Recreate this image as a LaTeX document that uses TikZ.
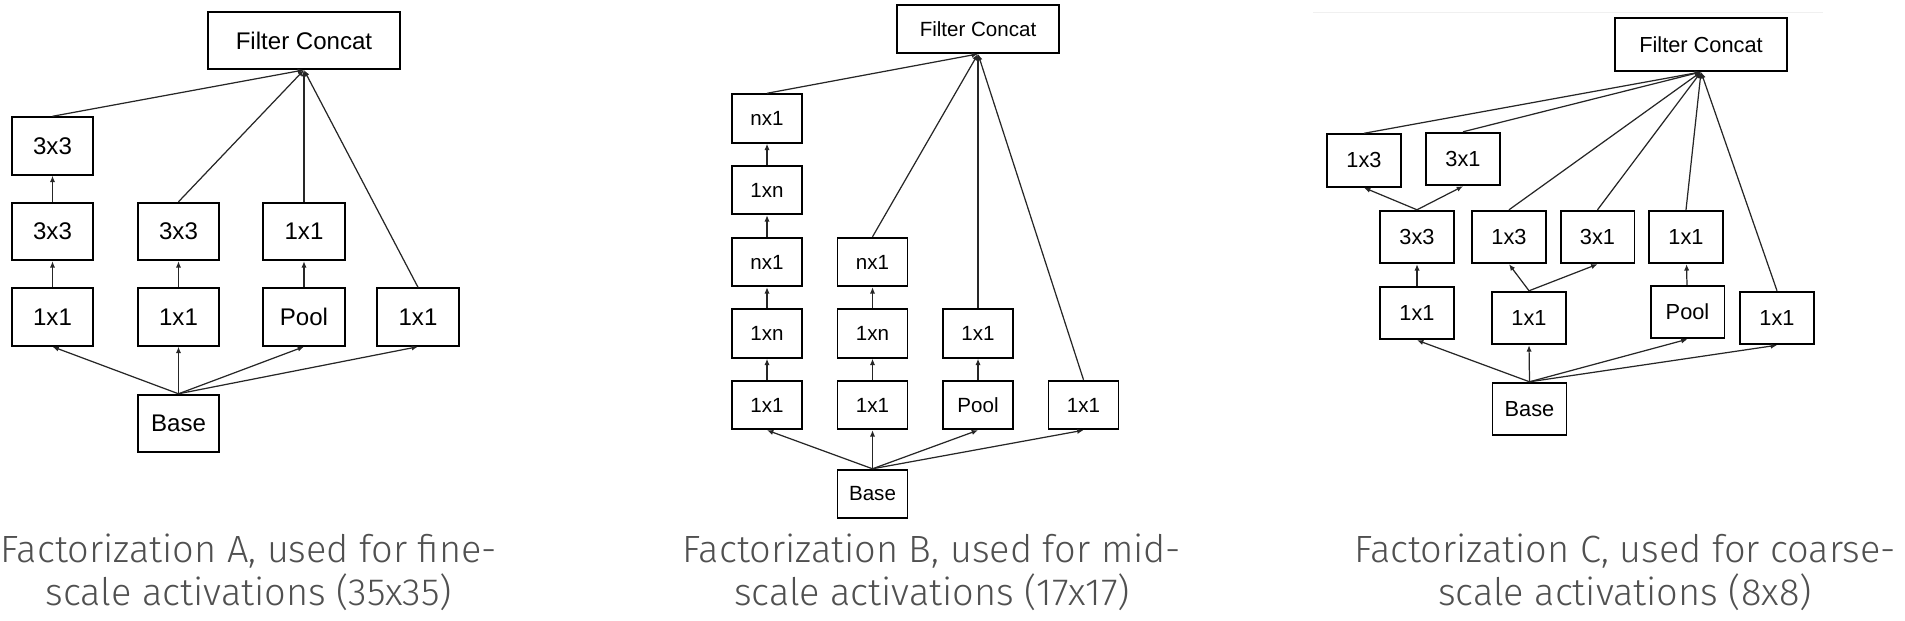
\documentclass[tikz,border=0pt]{standalone}
\usepackage{fontspec}
\setmainfont{Liberation Sans}
\newfontfamily\capfont{Fira Sans Light}
\usepackage{xcolor}
\usetikzlibrary{arrows.meta, positioning}
\definecolor{capgray}{RGB}{80,80,80}
\tikzset{
    layer/.style={
        rectangle,
        draw=black,
        line width=1.1pt,
        inner sep=0pt,
        fill=white
    },
    layerA/.style={
        layer,
        minimum width=1.63cm,
        minimum height=1.15cm,
        font=\fontsize{13.7}{16}\selectfont
    },
    layerB/.style={
        layer,
        minimum width=1.40cm,
        minimum height=0.97cm,
        font=\fontsize{11.7}{14}\selectfont
    },
    layerC/.style={
        layer,
        minimum width=1.48cm,
        minimum height=1.05cm,
        font=\fontsize{12.4}{14}\selectfont
    },
    conn/.style={
        draw=black!85,
        line width=0.7pt,
        -{Latex[length=3.6pt,width=3pt]}
    },
    caption/.style={
        anchor=base,
        text=capgray,
        inner sep=0pt,
        font=\capfont\fontsize{21.6}{26}\selectfont
    }
}

\begin{document}
\begin{tikzpicture}[x=0.02cm, y=-0.02cm]

\useasboundingbox (0,0) rectangle (1905,621);

% Factorization A
\node[layerA, minimum width=3.84cm, minimum height=1.14cm] (concatA) at (304,40.5) {Filter Concat};
\node[layerA] (a1top) at (52.5,146) {3x3};
\node[layerA] (a1mid) at (52.5,231.5) {3x3};
\node[layerA] (a1bot) at (52.5,317) {1x1};
\node[layerA] (a2mid) at (178.5,231.5) {3x3};
\node[layerA] (a2bot) at (178.5,317) {1x1};
\node[layerA] (a3mid) at (304,231.5) {1x1};
\node[layerA] (a3bot) at (304,317) {Pool};
\node[layerA] (a4bot) at (418,317) {1x1};
\node[layerA] (baseA) at (178.5,423.5) {Base};

\draw[conn] (baseA.north) -- (a1bot.south);
\draw[conn] (baseA.north) -- (a2bot.south);
\draw[conn] (baseA.north) -- (a3bot.south);
\draw[conn] (baseA.north) -- (a4bot.south);
\draw[conn] (a1bot) -- (a1mid);
\draw[conn] (a1mid) -- (a1top);
\draw[conn] (a2bot) -- (a2mid);
\draw[conn] (a3bot) -- (a3mid);
\draw[conn] (a1top.north) -- (concatA.south);
\draw[conn] (a2mid.north) -- (concatA.south);
\draw[conn] (a3mid.north) -- (concatA.south);
\draw[conn] (a4bot.north) -- (concatA.south);

\node[caption] (capA1) at (249,562) {Factorization A, used for fine-};
\node[caption] (capA2) at (249,605) {scale activations (35x35)};

% Factorization B
\node[layerB, minimum width=3.24cm, minimum height=0.96cm] (concatB) at (978,29) {Filter Concat};
\node[layerB] (b1r1) at (767,118.5) {nx1};
\node[layerB] (b1r2) at (767,190) {1xn};
\node[layerB] (b1r3) at (767,262) {nx1};
\node[layerB] (b1r4) at (767,333.5) {1xn};
\node[layerB] (b1r5) at (767,405) {1x1};
\node[layerB] (b2r3) at (872.5,262) {nx1};
\node[layerB] (b2r4) at (872.5,333.5) {1xn};
\node[layerB] (b2r5) at (872.5,405) {1x1};
\node[layerB] (b3r4) at (978,333.5) {1x1};
\node[layerB] (b3r5) at (978,405) {Pool};
\node[layerB] (b4r5) at (1083.5,405) {1x1};
\node[layerB] (baseB) at (872.5,494) {Base};

\draw[conn] (baseB.north) -- (b1r5.south);
\draw[conn] (baseB.north) -- (b2r5.south);
\draw[conn] (baseB.north) -- (b3r5.south);
\draw[conn] (baseB.north) -- (b4r5.south);
\draw[conn] (b1r5) -- (b1r4);
\draw[conn] (b1r4) -- (b1r3);
\draw[conn] (b1r3) -- (b1r2);
\draw[conn] (b1r2) -- (b1r1);
\draw[conn] (b2r5) -- (b2r4);
\draw[conn] (b2r4) -- (b2r3);
\draw[conn] (b3r5) -- (b3r4);
\draw[conn] (b1r1.north) -- (concatB.south);
\draw[conn] (b2r3.north) -- (concatB.south);
\draw[conn] (b3r4.north) -- (concatB.south);
\draw[conn] (b4r5.north) -- (concatB.south);

\node[caption] (capB1) at (932,562) {Factorization B, used for mid-};
\node[caption] (capB2) at (932,605) {scale activations (17x17)};

% Factorization C
\draw[black!6, line width=0.5pt] (1313,12) -- (1823,12);
\node[layerC, minimum width=3.44cm, minimum height=1.06cm] (concatC) at (1701,44.5) {Filter Concat};
\node[layerC] (c1top) at (1364,160.5) {1x3};
\node[layerC] (c2top) at (1463,159) {3x1};
\node[layerC] (c1mid) at (1417,237) {3x3};
\node[layerC] (c2mid) at (1509,237) {1x3};
\node[layerC] (c3mid) at (1597.5,237) {3x1};
\node[layerC] (c4mid) at (1686,237) {1x1};
\node[layerC] (c1bot) at (1417,313) {1x1};
\node[layerC] (c2bot) at (1529,318) {1x1};
\node[layerC] (c3bot) at (1687.5,312) {Pool};
\node[layerC] (c4bot) at (1777,318) {1x1};
\node[layerC] (baseC) at (1529.5,409) {Base};

\draw[conn] (baseC.north) -- (c1bot.south);
\draw[conn] (baseC.north) -- (c2bot.south);
\draw[conn] (baseC.north) -- (c3bot.south);
\draw[conn] (baseC.north) -- (c4bot.south);
\draw[conn] (c1bot) -- (c1mid);
\draw[conn] (c1mid.north) -- (c1top.south);
\draw[conn] (c1mid.north) -- (c2top.south);
\draw[conn] (c2bot.north) -- (c2mid.south);
\draw[conn] (c2bot.north) -- (c3mid.south);
\draw[conn] (c3bot) -- (c4mid);
\draw[conn] (c1top.north) -- (concatC.south);
\draw[conn] (c2top.north) -- (concatC.south);
\draw[conn] (c2mid.north) -- (concatC.south);
\draw[conn] (c3mid.north) -- (concatC.south);
\draw[conn] (c4mid.north) -- (concatC.south);
\draw[conn] (c4bot.north) -- (concatC.south);

\node[caption] (capC1) at (1625,562) {Factorization C, used for coarse-};
\node[caption] (capC2) at (1625,605) {scale activations (8x8)};

\end{tikzpicture}
\end{document}
